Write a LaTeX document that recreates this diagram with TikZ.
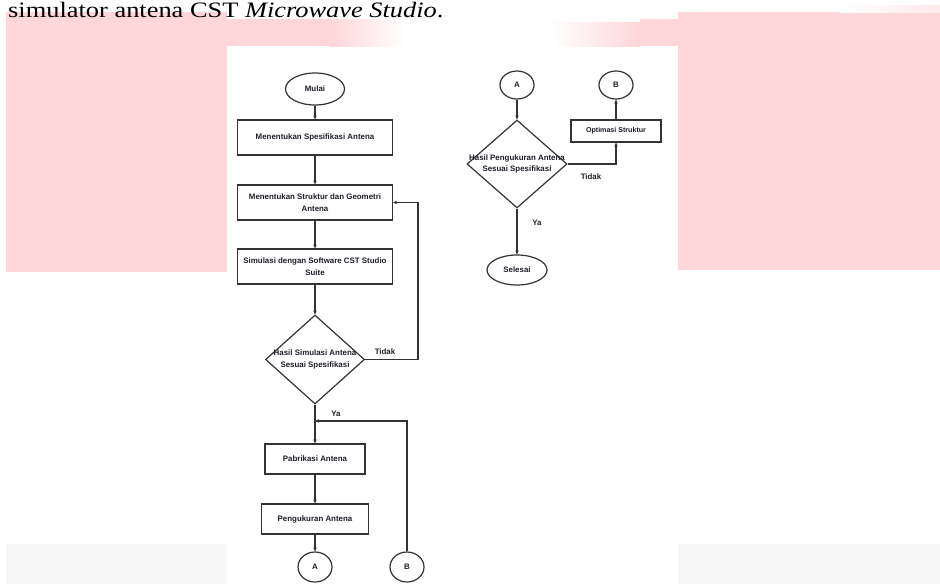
\documentclass[tikz,border=0pt]{standalone}
\usepackage{fontspec}
\setmainfont{Liberation Serif}
\newfontfamily\arialfont{Liberation Sans}
\usetikzlibrary{shapes.geometric,arrows.meta}
\definecolor{pinkbg}{HTML}{FFD6D9}
\definecolor{pinklt}{HTML}{FFEAEC}
\definecolor{greybg}{HTML}{F7F7F7}
\definecolor{ln}{HTML}{333333}
\definecolor{tx}{HTML}{1E1E2A}
\begin{document}
\begin{tikzpicture}[x=1pt,y=-1pt,
  chartfont/.style={font=\arialfont\bfseries\fontsize{7.9}{11.5}\selectfont, text=tx},
  box/.style={rectangle, draw=ln, line width=1.2pt, fill=white, inner sep=1pt, align=center, chartfont},
  term/.style={ellipse, draw=ln, line width=1.2pt, fill=white, inner sep=0pt, chartfont},
  dia/.style={diamond, draw=ln, line width=1.2pt, fill=white, inner sep=0pt},
  txt/.style={inner sep=0pt, align=center, chartfont},
  lbl/.style={inner sep=0pt, chartfont},
  conn/.style={draw=ln, line width=1.2pt, -{Stealth[length=4pt,width=3.5pt]}}]
\useasboundingbox (0,0) rectangle (940,584);
% background pink and grey areas
\fill[pinkbg] (6,12) rectangle (227,272);
\fill[pinkbg] (227,19) rectangle (330,46);
\shade[left color=pinkbg, right color=white] (330,19) rectangle (405,46);
\fill[pinkbg] (678,12) rectangle (940,270);
\fill[pinkbg] (640,19) rectangle (678,46);
\shade[left color=white, right color=pinkbg] (550,22) rectangle (640,46);
\shade[left color=white, right color=pinklt] (840,5) rectangle (940,12);
\fill[greybg] (6,544) rectangle (227,584);
\fill[greybg] (678,544) rectangle (940,584);
% heading text
\node[anchor=base west, inner sep=0pt, font=\fontsize{22}{26}\selectfont] (cap) at (8,17.5) {\scalebox{1.2}[1]{simulator antena CST \textit{Microwave Studio}.}};
% left chart
\node[term, minimum width=59pt, minimum height=32pt] (mulai) at (315,89) {Mulai};
\node[box, minimum width=155pt, minimum height=35pt] (b1) at (315,137.5) {Menentukan Spesifikasi Antena};
\node[box, minimum width=155pt, minimum height=35pt] (b2) at (315,202.5) {Menentukan Struktur dan Geometri\\Antena};
\node[box, minimum width=155pt, minimum height=35pt] (b3) at (315,266.5) {Simulasi dengan Software CST Studio\\Suite};
\node[dia, minimum width=99pt, minimum height=89pt] (d1) at (315,359.5) {};
\node[txt] (d1t) at (d1.center) {Hasil Simulasi Antena\\Sesuai Spesifikasi};
\node[box, minimum width=100pt, minimum height=30pt] (b4) at (315,459) {Pabrikasi Antena};
\node[box, minimum width=107pt, minimum height=30pt] (b5) at (315,519) {Pengukuran Antena};
\node[term, minimum width=34pt, minimum height=30pt] (Ab) at (315,567) {A};
\node[term, minimum width=34pt, minimum height=30pt] (Bb) at (407,567) {B};
\node[lbl] (tidak1) at (385,352) {Tidak};
\node[lbl] (ya1) at (336,414) {Ya};
\coordinate (t1) at (418,359.5);
\coordinate (j1) at (315,421);
\draw[conn] (mulai.south) -- (b1.north);
\draw[conn] (b1.south) -- (b2.north);
\draw[conn] (b2.south) -- (b3.north);
\draw[conn] (b3.south) -- (d1.north);
\draw[conn] (d1.east) -- (t1) |- (b2.east);
\draw[conn] (d1.south) -- (b4.north);
\draw[conn] (Bb.north) |- (j1);
\draw[conn] (b4.south) -- (b5.north);
\draw[conn] (b5.south) -- (Ab.north);
% right chart
\node[term, minimum width=34pt, minimum height=28pt] (At) at (517,85) {A};
\node[dia, minimum width=100pt, minimum height=88pt] (d2) at (517,164) {};
\node[txt] (d2t) at (d2.center) {Hasil Pengukuran Antena\\Sesuai Spesifikasi};
\node[box, minimum width=90pt, minimum height=22pt, font=\arialfont\bfseries\fontsize{7.1}{9}\selectfont] (opt) at (616,131) {Optimasi Struktur};
\node[term, minimum width=34pt, minimum height=28pt] (Bt) at (616,85) {B};
\node[term, minimum width=60pt, minimum height=30pt] (sel) at (517,270) {Selesai};
\node[lbl] (tidak2) at (591,177) {Tidak};
\node[lbl] (ya2) at (537,223) {Ya};
\draw[conn] (At.south) -- (d2.north);
\draw[conn] (d2.east) -| (opt.south);
\draw[conn] (opt.north) -- (Bt.south);
\draw[conn] (d2.south) -- (sel.north);
\end{tikzpicture}
\end{document}
